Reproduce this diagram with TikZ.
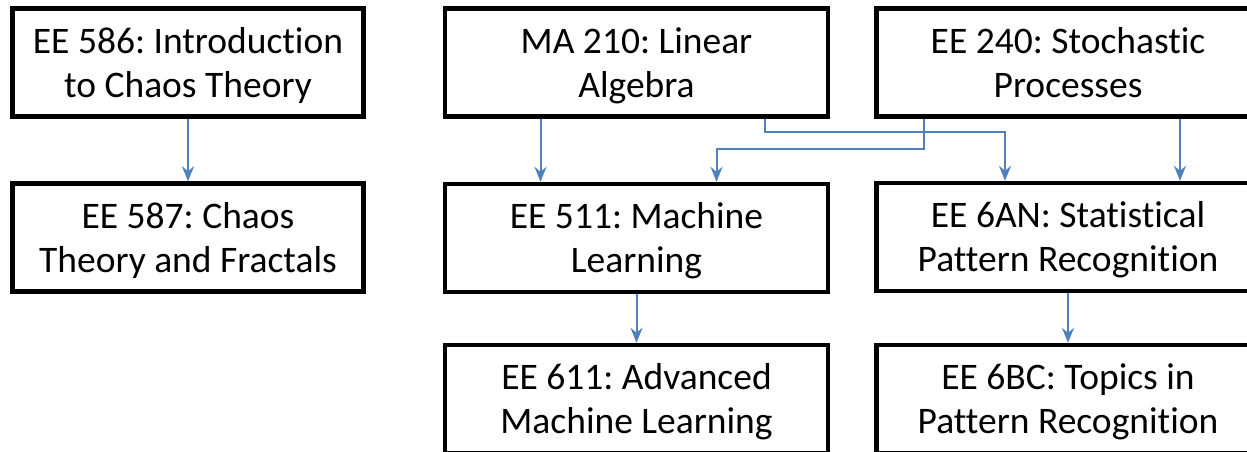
\documentclass[tikz,border=0pt]{standalone}
\usepackage{fontspec}
\setmainfont{Carlito}[Ligatures=NoCommon]
\usetikzlibrary{arrows.meta}

\definecolor{linkblue}{RGB}{79,129,189}
\newcommand{\coursefont}{\fontsize{37.5}{44}\selectfont\frenchspacing}

\tikzset{
  course/.style = {draw, line width=4.5pt, align=center, inner sep=0pt, outer sep=2.2pt,
                   minimum height=108pt, text height=74pt, text depth=5pt, font=\coursefont},
  link/.style = {draw=linkblue, line width=2pt, -{Stealth[length=15pt, width=12pt, inset=5pt]}}
}

\begin{document}
\begin{tikzpicture}[x=1pt, y=-1pt]
\useasboundingbox (0,0) rectangle (1247,452);
% left column
\node[course, minimum width=351pt] (ee586) at (188, 62.5){EE 586: Introduction\\to Chaos Theory};
\node[course, minimum width=351pt] (ee587) at (188, 237.5){EE 587: Chaos\\Theory and Fractals};
% middle column
\node[course, minimum width=383pt] (ma210) at (636.5, 62.5){MA 210: Linear\\Algebra};
\node[course, minimum width=383pt] (ee511) at (636.5, 238){EE 511: Machine\\Learning};
\node[course, minimum width=383pt] (ee611) at (636.5, 399){EE 611: Advanced\\Machine Learning};
% right column
\node[course, minimum width=383pt] (ee240) at (1068, 62.5){EE 240: Stochastic\\Processes};
\node[course, minimum width=383pt] (ee6an) at (1068, 237){EE 6AN: Statistical\\Pattern Recognition};
\node[course, minimum width=383pt] (ee6bc) at (1068, 399){EE 6BC: Topics in\\Pattern Recognition};

% prerequisites
\draw[link] (ee586) -- (ee587);
\draw[link] ([xshift=-96pt]ma210.south) -- ([xshift=-96pt]ee511.north);
\draw[link] ([xshift=128pt]ma210.south) -- ++(0,13) -| ([xshift=-63pt]ee6an.north);
\draw[link] ([xshift=-144pt]ee240.south) -- ++(0,30) -| ([xshift=80pt]ee511.north);
\draw[link] ([xshift=112pt]ee240.south) -- ([xshift=112pt]ee6an.north);
\draw[link] (ee511) -- (ee611);
\draw[link] (ee6an) -- (ee6bc);
\end{tikzpicture}
\end{document}
